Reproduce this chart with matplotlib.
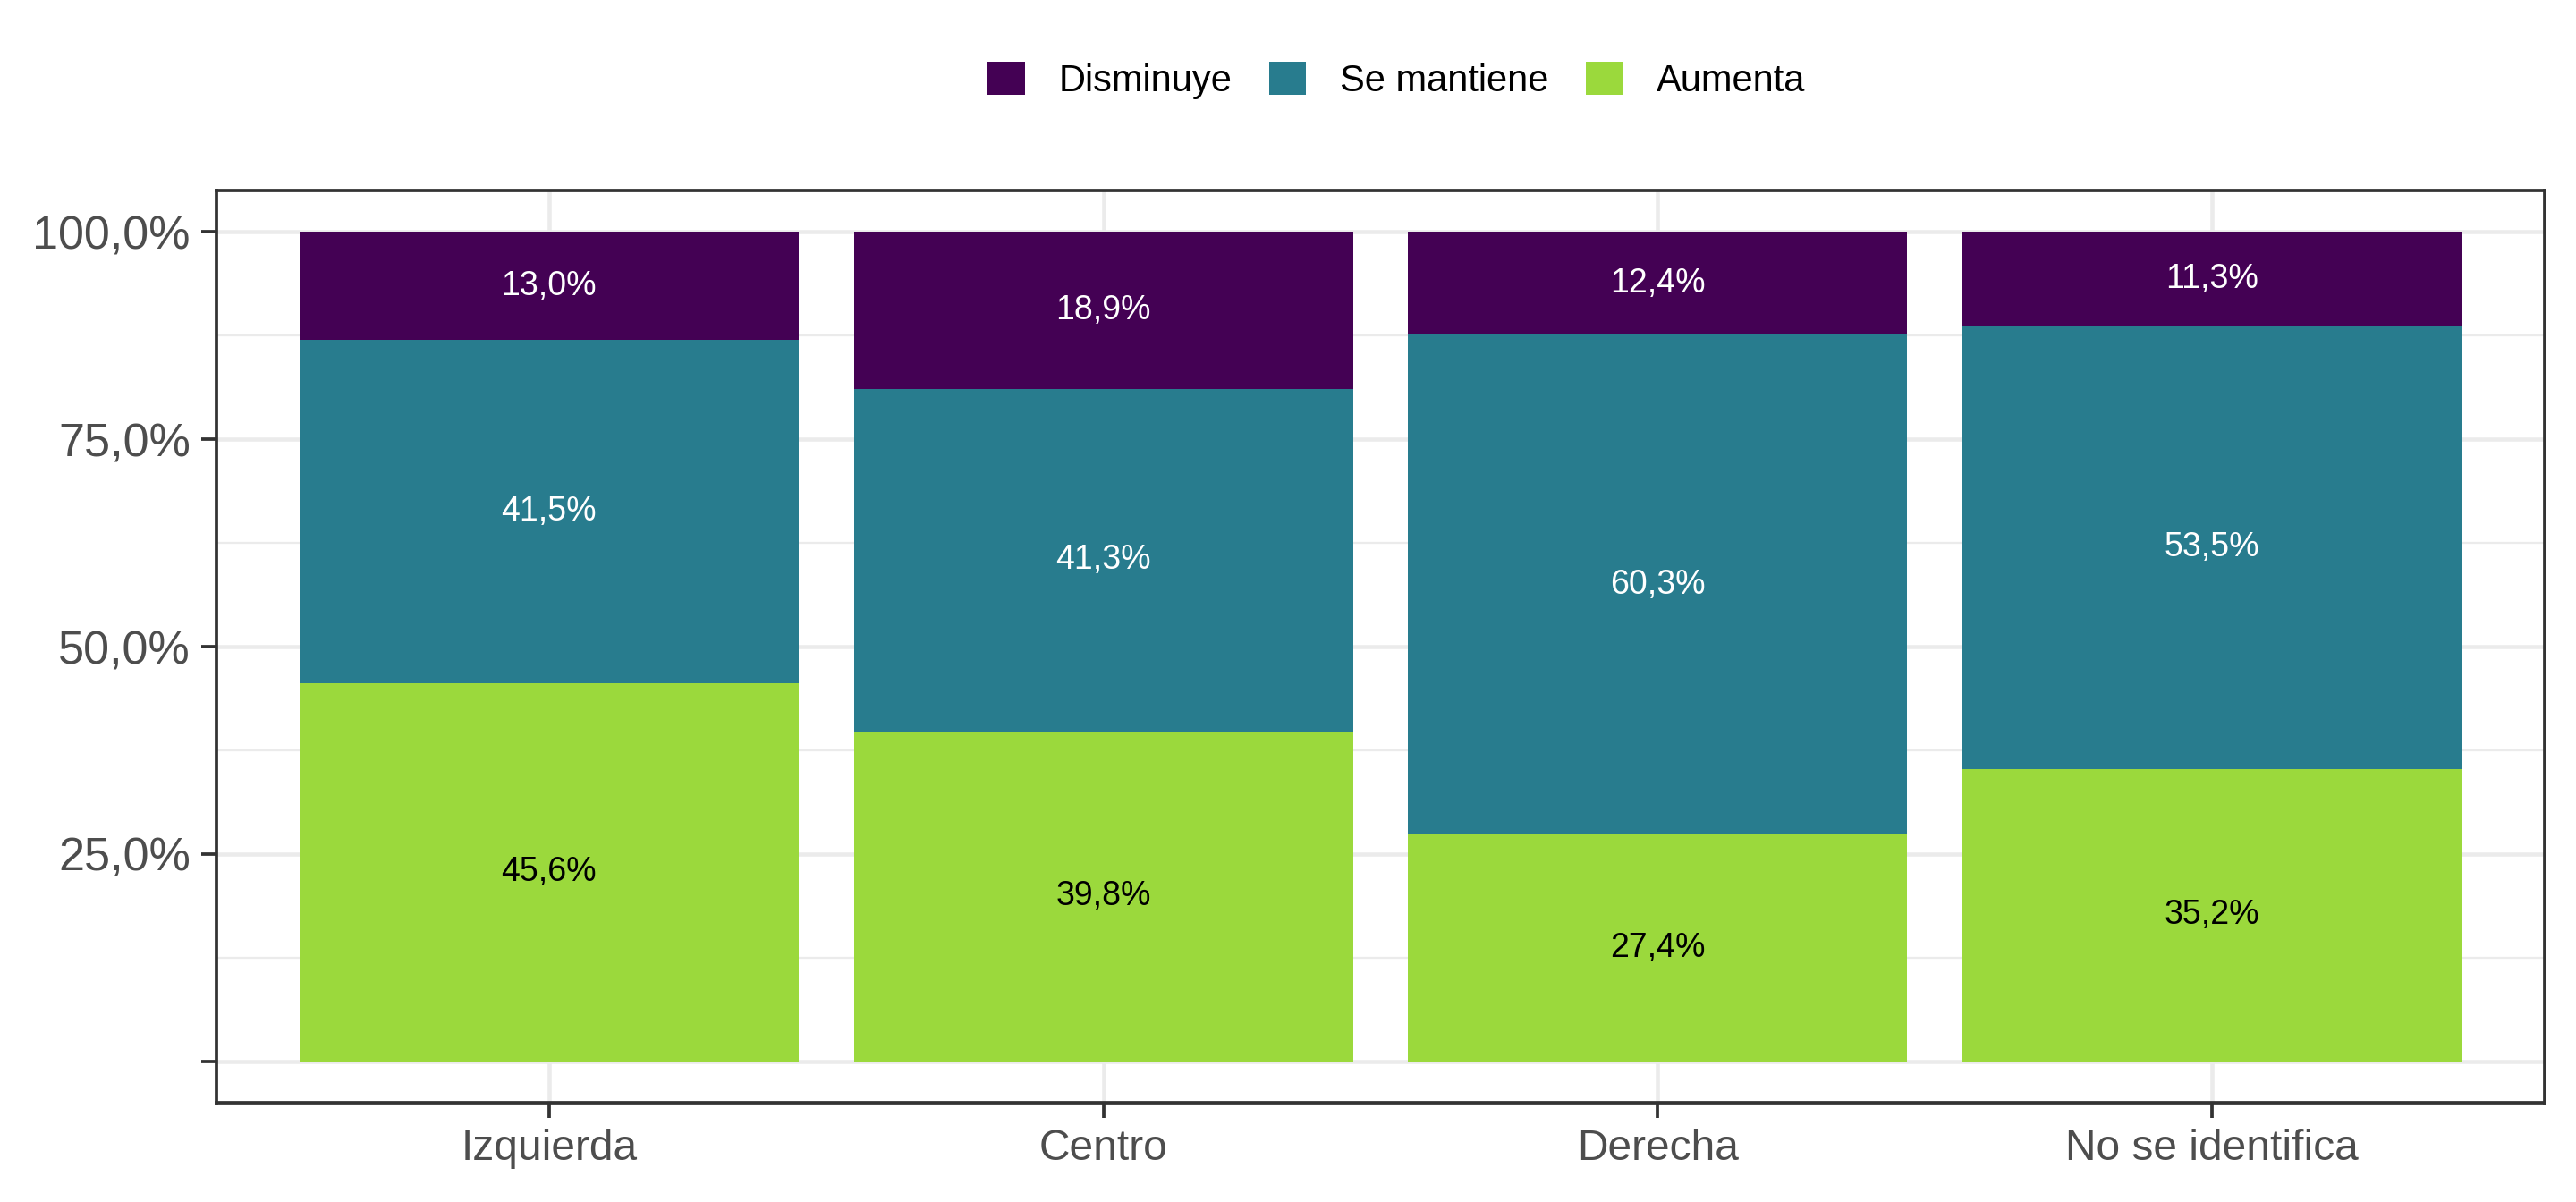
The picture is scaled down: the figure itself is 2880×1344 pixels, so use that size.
import matplotlib
matplotlib.use("Agg")
import matplotlib.pyplot as plt
from matplotlib.ticker import FixedLocator
from matplotlib.patches import Patch
import numpy as np

DPI = 300
plt.rcParams['font.family'] = ['Liberation Sans', 'DejaVu Sans']

categories = ["Izquierda", "Centro", "Derecha", "No se identifica"]
series = ["Disminuye", "Se mantiene", "Aumenta"]
aumenta = [45.6, 39.8, 27.4, 35.2]
se_mantiene = [41.5, 41.3, 60.3, 53.5]
disminuye = [13.0, 18.9, 12.4, 11.3]
colors = {"Disminuye": "#440154", "Se mantiene": "#287C8E", "Aumenta": "#9BD93C"}
text_colors = {"Disminuye": "white", "Se mantiene": "white", "Aumenta": "black"}

fig = plt.figure(figsize=(2880 / DPI, 1344 / DPI), dpi=DPI)
ax = fig.add_axes([242 / 2880, 1 - 1233 / 1344, (2845 - 242) / 2880, (1233 - 213) / 1344])

x = np.arange(1, len(categories) + 1)
data = np.array([aumenta, se_mantiene, disminuye])
shares = data / data.sum(axis=0) * 100

bottom = np.zeros(len(categories))
stack = [("Aumenta", 0), ("Se mantiene", 1), ("Disminuye", 2)]
for name, i in stack:
    ax.bar(x, shares[i], 0.9, bottom=bottom, color=colors[name], zorder=2)
    for xi, b, h, v in zip(x, bottom, shares[i], data[i]):
        ax.text(xi, b + h / 2, f"{v:.1f}%".replace(".", ","), ha="center", va="center",
                fontsize=9, color=text_colors[name], zorder=3)
    bottom += shares[i]

ax.set_xlim(0.4, len(categories) + 0.6)
ax.set_ylim(-5, 105)
ax.set_xticks(x)
ax.set_xticklabels(categories)
ax.yaxis.set_major_locator(FixedLocator([0, 25, 50, 75, 100]))
ax.yaxis.set_minor_locator(FixedLocator([12.5, 37.5, 62.5, 87.5]))
ax.set_yticklabels(["", "25,0%", "50,0%", "75,0%", "100,0%"])

ax.grid(True, which="major", color="#EBEBEB", linewidth=1.1, zorder=0)
ax.grid(True, which="minor", axis="y", color="#EBEBEB", linewidth=0.55, zorder=0)
ax.set_axisbelow(True)
for s in ax.spines.values():
    s.set_color("#333333")
    s.set_linewidth(0.9)
ax.tick_params(which="major", length=4, width=0.9, color="#333333")
ax.tick_params(which="minor", length=0)
ax.tick_params(axis="y", labelsize=12.5, labelcolor="#4D4D4D", pad=3)
ax.tick_params(axis="x", labelsize=11.5, labelcolor="#4D4D4D", pad=3)

handles = [Patch(facecolor=colors[s], edgecolor="none") for s in series]
fig.legend(handles, series, loc="center", bbox_to_anchor=(850 / 1568, 1 - 90 / 1344),
           ncol=3, frameon=False, fontsize=10, handlelength=1.0, handleheight=1.0,
           handletextpad=0.9, columnspacing=1.0)

fig.savefig("out.png", dpi=DPI)
